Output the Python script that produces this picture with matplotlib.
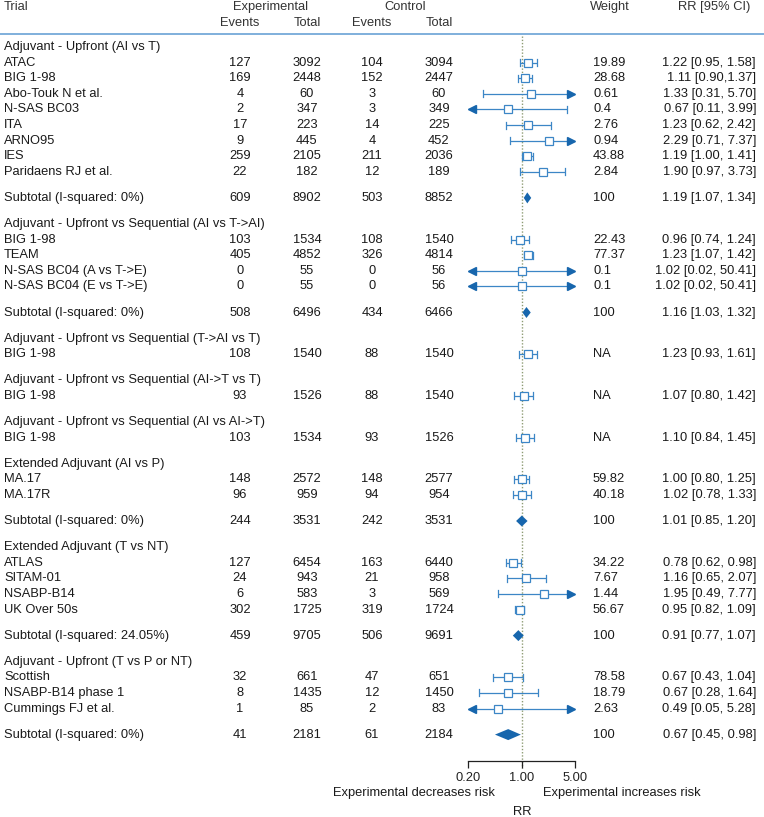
import matplotlib
matplotlib.use("Agg")
import matplotlib.pyplot as plt
from matplotlib.transforms import offset_copy

plt.rcParams['font.family'] = ['Liberation Sans', 'DejaVu Sans']

group_titles = [
    "Adjuvant - Upfront (AI vs T)",
    "Adjuvant - Upfront vs Sequential (AI vs T->AI)",
    "Adjuvant - Upfront vs Sequential (T->AI vs T)",
    "Adjuvant - Upfront vs Sequential (AI->T vs T)",
    "Adjuvant - Upfront vs Sequential (AI vs AI->T)",
    "Extended Adjuvant (AI vs P)",
    "Extended Adjuvant (T vs NT)",
    "Adjuvant - Upfront (T vs P or NT)",
]

study_group = [0, 0, 0, 0, 0, 0, 0, 0, 1, 1, 1, 1, 2, 3, 4, 5, 5, 6, 6, 6, 6, 7, 7, 7]
study_names = ["ATAC", "BIG 1-98", "Abo-Touk N et al.", "N-SAS BC03", "ITA", "ARNO95", "IES",
               "Paridaens RJ et al.",
               "BIG 1-98", "TEAM", "N-SAS BC04 (A vs T->E)", "N-SAS BC04 (E vs T->E)",
               "BIG 1-98", "BIG 1-98", "BIG 1-98",
               "MA.17", "MA.17R",
               "ATLAS", "SITAM-01", "NSABP-B14", "UK Over 50s",
               "Scottish", "NSABP-B14 phase 1", "Cummings FJ et al."]
exp_events = [127, 169, 4, 2, 17, 9, 259, 22, 103, 405, 0, 0, 108, 93, 103, 148, 96,
              127, 24, 6, 302, 32, 8, 1]
exp_total = [3092, 2448, 60, 347, 223, 445, 2105, 182, 1534, 4852, 55, 55, 1540, 1526, 1534,
             2572, 959, 6454, 943, 583, 1725, 661, 1435, 85]
ctl_events = [104, 152, 3, 3, 14, 4, 211, 12, 108, 326, 0, 0, 88, 88, 93, 148, 94,
              163, 21, 3, 319, 47, 12, 2]
ctl_total = [3094, 2447, 60, 349, 225, 452, 2036, 189, 1540, 4814, 56, 56, 1540, 1540, 1526,
             2577, 954, 6440, 958, 569, 1724, 651, 1450, 83]
weights = ["19.89", "28.68", "0.61", "0.4", "2.76", "0.94", "43.88", "2.84",
           "22.43", "77.37", "0.1", "0.1", "NA", "NA", "NA", "59.82", "40.18",
           "34.22", "7.67", "1.44", "56.67", "78.58", "18.79", "2.63"]
rr = [1.22, 1.11, 1.33, 0.67, 1.23, 2.29, 1.19, 1.90, 0.96, 1.23, 1.02, 1.02, 1.23, 1.07, 1.10,
      1.00, 1.02, 0.78, 1.16, 1.95, 0.95, 0.67, 0.67, 0.49]
rr_lo = [0.95, 0.90, 0.31, 0.11, 0.62, 0.71, 1.00, 0.97, 0.74, 1.07, 0.02, 0.02, 0.93, 0.80, 0.84,
         0.80, 0.78, 0.62, 0.65, 0.49, 0.82, 0.43, 0.28, 0.05]
rr_hi = [1.58, 1.37, 5.70, 3.99, 2.42, 7.37, 1.41, 3.73, 1.24, 1.42, 50.41, 50.41, 1.61, 1.42, 1.45,
         1.25, 1.33, 0.98, 2.07, 7.77, 1.09, 1.04, 1.64, 5.28]
rr_text = ["1.22 [0.95, 1.58]", "1.11 [0.90,1.37]", "1.33 [0.31, 5.70]", "0.67 [0.11, 3.99]",
           "1.23 [0.62, 2.42]", "2.29 [0.71, 7.37]", "1.19 [1.00, 1.41]", "1.90 [0.97, 3.73]",
           "0.96 [0.74, 1.24]", "1.23 [1.07, 1.42]", "1.02 [0.02, 50.41]", "1.02 [0.02, 50.41]",
           "1.23 [0.93, 1.61]", "1.07 [0.80, 1.42]", "1.10 [0.84, 1.45]",
           "1.00 [0.80, 1.25]", "1.02 [0.78, 1.33]",
           "0.78 [0.62, 0.98]", "1.16 [0.65, 2.07]", "1.95 [0.49, 7.77]", "0.95 [0.82, 1.09]",
           "0.67 [0.43, 1.04]", "0.67 [0.28, 1.64]", "0.49 [0.05, 5.28]"]

# subtotals (group index -> values)
sub_group = [0, 1, 5, 6, 7]
sub_labels = ["Subtotal (I-squared: 0%)", "Subtotal (I-squared: 0%)", "Subtotal (I-squared: 0%)",
              "Subtotal (I-squared: 24.05%)", "Subtotal (I-squared: 0%)"]
sub_exp_events = [609, 508, 244, 459, 41]
sub_exp_total = [8902, 6496, 3531, 9705, 2181]
sub_ctl_events = [503, 434, 242, 506, 61]
sub_ctl_total = [8852, 6466, 3531, 9691, 2184]
sub_rr = [1.19, 1.16, 1.01, 0.91, 0.67]
sub_lo = [1.07, 1.03, 0.85, 0.77, 0.45]
sub_hi = [1.34, 1.32, 1.20, 1.07, 0.98]

xmin, xmax = 0.2, 5.0
line_c = "#3c86c6"
fill_c = "#1766ad"
txt_c = "#1a1a1a"
fs = 9.3

W, H = 764, 817
fig = plt.figure(figsize=(W / 100, H / 100), dpi=100)
ax = fig.add_axes([0, 0, 1, 1])
ax.set_xlim(0, W)
ax.set_ylim(H, 0)
ax.axis("off")

fx = fig.add_axes([468 / W, 0, (575 - 468) / W, 1])
fx.set_xscale("log")
fx.set_xlim(xmin, xmax)
fx.set_ylim(H, 0)
fx.patch.set_alpha(0)

# column positions (pixels)
c_ee, c_et, c_ce, c_ct, c_w, c_rr = 240, 307, 372, 439, 593, 756


def row_text(y, label, ee, et, ce, ct, w, t):
    ax.text(4, y, label, ha="left", va="center", fontsize=fs, color=txt_c)
    for xc, v in zip([c_ee, c_et, c_ce, c_ct], [ee, et, ce, ct]):
        ax.text(xc, y, str(v), ha="center", va="center", fontsize=fs, color=txt_c)
    ax.text(c_w, y, w, ha="left", va="center", fontsize=fs, color=txt_c)
    ax.text(c_rr, y, t, ha="right", va="center", fontsize=fs, color=txt_c)


# header
hc = "#333333"
ax.text(4, 7, "Trial", ha="left", va="center", fontsize=fs, color=hc)
ax.text(270, 7, "Experimental", ha="center", va="center", fontsize=fs, color=hc)
ax.text(405, 7, "Control", ha="center", va="center", fontsize=fs, color=hc)
ax.text(610, 7, "Weight", ha="center", va="center", fontsize=fs, color=hc)
ax.text(750, 7, "RR [95% CI)", ha="right", va="center", fontsize=fs, color=hc)
for xc, lab in zip([c_ee, c_et, c_ce, c_ct], ["Events", "Total", "Events", "Total"]):
    ax.text(xc, 23, lab, ha="center", va="center", fontsize=fs, color=hc)
ax.plot([0, W], [34, 34], color="#5c9ad2", lw=1.1)

arrow_r = offset_copy(fx.transData, fig=fig, x=-3, y=0, units="points")
arrow_l = offset_copy(fx.transData, fig=fig, x=3, y=0, units="points")

h, g = 15.6, 26.1
y = 47
for gi, title in enumerate(group_titles):
    ax.text(4, y, title, ha="left", va="center", fontsize=fs, color=txt_c)
    y += h
    idx = [i for i, sg in enumerate(study_group) if sg == gi]
    for i in idx:
        row_text(y, study_names[i], exp_events[i], exp_total[i], ctl_events[i], ctl_total[i],
                 weights[i], rr_text[i])
        lo = max(rr_lo[i], xmin)
        hi = min(rr_hi[i], xmax)
        fx.plot([lo, hi], [y, y], color=line_c, lw=0.9, solid_capstyle="butt")
        if rr_lo[i] >= xmin:
            fx.plot([lo, lo], [y - 3.5, y + 3.5], color=line_c, lw=0.9)
        else:
            fx.plot([xmin], [y], marker="<", ms=6, color=fill_c, transform=arrow_l,
                    clip_on=False)
        if rr_hi[i] <= xmax:
            fx.plot([hi, hi], [y - 3.5, y + 3.5], color=line_c, lw=0.9)
        else:
            fx.plot([xmax], [y], marker=">", ms=6, color=fill_c, transform=arrow_r,
                    clip_on=False)
        fx.plot([rr[i]], [y], marker="s", ms=5.4, mfc="white", mec=line_c, mew=0.9)
        y += h
    last = y - h
    if gi in sub_group:
        k = sub_group.index(gi)
        sy = last + g
        t = f"{sub_rr[k]:.2f} [{sub_lo[k]:.2f}, {sub_hi[k]:.2f}]"
        row_text(sy, sub_labels[k], sub_exp_events[k], sub_exp_total[k], sub_ctl_events[k],
                 sub_ctl_total[k], "100", t)
        fx.fill([sub_lo[k], sub_rr[k], sub_hi[k], sub_rr[k]],
                [sy, sy - 5.5, sy, sy + 5.5], color=fill_c, lw=0)
        y = sy + g
    else:
        y = last + g

# null line
fx.plot([1, 1], [36, 768], color="#8e9c74", lw=1, ls=(0, (1, 1.3)), zorder=0)

# x axis
for s in ["top", "left", "right"]:
    fx.spines[s].set_visible(False)
fx.spines["bottom"].set_position(("data", 761))
fx.spines["bottom"].set_color("#222222")
fx.spines["bottom"].set_linewidth(0.9)
fx.set_yticks([])
fx.set_xticks([0.2, 1, 5])
fx.set_xticklabels(["0.20", "1.00", "5.00"])
fx.minorticks_off()
fx.tick_params(axis="x", direction="out", length=5, width=0.9, labelsize=fs, colors="#222222",
               pad=3)

ax.text(495, 793, "Experimental decreases risk", ha="right", va="center", fontsize=fs,
        color=txt_c)
ax.text(543, 793, "Experimental increases risk", ha="left", va="center", fontsize=fs,
        color=txt_c)
ax.text(522, 812, "RR", ha="center", va="center", fontsize=fs, color=txt_c)

fig.savefig("out.png", dpi=100)
